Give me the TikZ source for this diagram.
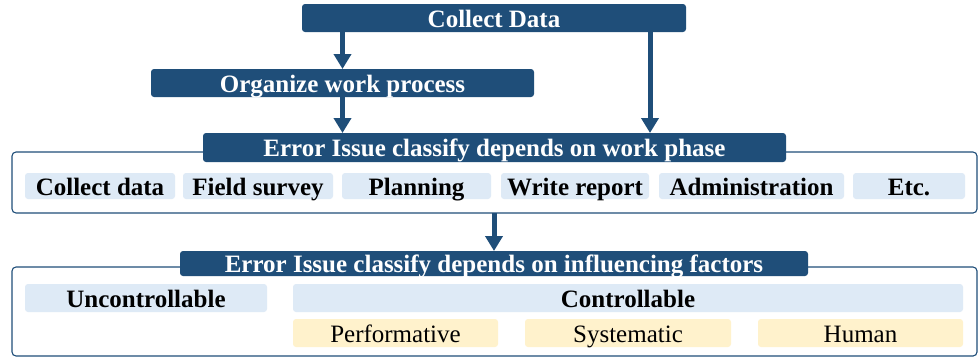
\documentclass[tikz,border=0pt]{standalone}
\usepackage{fontspec}
\setmainfont{LiberationSerif}[Extension=.ttf, UprightFont=*-Regular, BoldFont=*-Bold, ItalicFont=*-Italic, BoldItalicFont=*-BoldItalic]
\usetikzlibrary{arrows.meta}
\definecolor{navy}{HTML}{1F4E79}
\definecolor{paleblue}{HTML}{DEEAF6}
\definecolor{paleyellow}{HTML}{FFF2CC}
\tikzset{
  x=1pt, y=-1pt,
  every node/.style={inner sep=0pt, outer sep=0pt, text height=18pt, text depth=0pt,
    font=\fontsize{25}{28}\selectfont},
  header/.style={fill=navy, rounded corners=3pt, text=white, font=\fontsize{25}{28}\selectfont\bfseries},
  frame/.style={draw=navy, line width=1.1pt, rounded corners=4pt, fill=white},
  phase/.style={fill=paleblue, rounded corners=3pt, font=\fontsize{25}{28}\selectfont\bfseries},
  factor/.style={fill=paleyellow, rounded corners=3pt},
  flow/.style={draw=navy, line width=5pt, -{Triangle[length=15pt,width=17pt]}},
}
\newcommand{\boxnode}[6][]{% style, name, x1, y1, x2, y2, text
  \node[#1, minimum width=#5pt-#3pt, minimum height=#6pt-#4pt] (#2) at ({(#3+#5)/2},{(#4+#6)/2})}
\begin{document}
\begin{tikzpicture}
\useasboundingbox (0,0) rectangle (980,357);

% frames behind the section headers
\boxnode[frame]{box1}{12}{152}{977}{213} {};
\boxnode[frame]{box2}{12}{267}{977}{356} {};

% headers
\boxnode[header]{collect}{302}{4}{686}{32} {Collect Data};
\boxnode[header]{org}{151}{69}{534}{97} {Organize work process};
\boxnode[header]{hdr1}{203}{133}{786}{162} {Error Issue classify depends on work phase};
\boxnode[header]{hdr2}{180}{251}{808}{276} {Error Issue classify depends on influencing factors};

% work phases
\boxnode[phase]{p1}{25}{173}{175}{199} {Collect data};
\boxnode[phase]{p2}{183}{173}{333}{199} {Field survey};
\boxnode[phase]{p3}{342}{173}{491}{199} {Planning};
\boxnode[phase]{p4}{501}{173}{649}{199} {Write report};
\boxnode[phase]{p5}{659}{173}{844}{199} {Administration};
\boxnode[phase]{p6}{853}{173}{965}{199} {Etc.};

% influencing factors
\boxnode[phase]{unc}{25}{284}{267}{312} {Uncontrollable};
\boxnode[phase]{con}{293}{284}{963}{312} {Controllable};
\boxnode[factor]{perf}{293}{319}{498}{347} {Performative};
\boxnode[factor]{sys}{525}{319}{731}{347} {Systematic};
\boxnode[factor]{hum}{758}{319}{963}{347} {Human};

% connectors
\coordinate (side) at ([xshift=-36pt]collect.south east);
\draw[flow] (org.north |- collect.south) -- (org.north);
\draw[flow] (org.south) -- (org.south |- hdr1.north);
\draw[flow] (side) -- (side |- hdr1.north);
\draw[flow] (hdr2.north |- box1.south) -- (hdr2.north);
\end{tikzpicture}
\end{document}
